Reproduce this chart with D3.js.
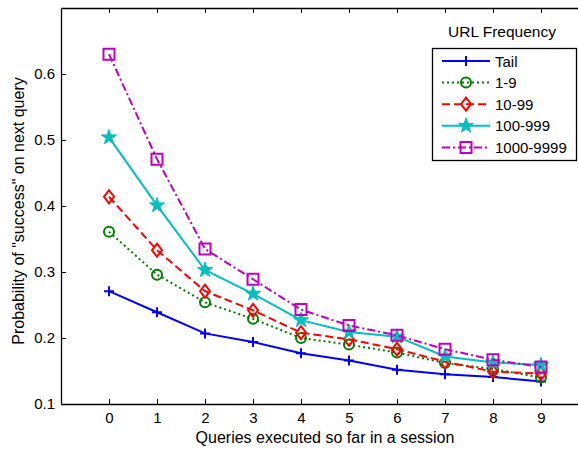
<!DOCTYPE html>
<html>
<head>
<meta charset="utf-8">
<script src="https://cdn.jsdelivr.net/npm/d3@7"></script>
<style>
  body { margin: 0; background: #fff; }
  svg { display: block; font-family: "Liberation Sans", Arial, sans-serif; }
</style>
</head>
<body>
<div id="root"></div>
<script>
// data
var queries = [0, 1, 2, 3, 4, 5, 6, 7, 8, 9];
var tail      = [0.271, 0.239, 0.207, 0.194, 0.177, 0.166, 0.152, 0.145, 0.141, 0.134];
var freq1     = [0.361, 0.296, 0.254, 0.229, 0.200, 0.190, 0.178, 0.162, 0.153, 0.140];
var freq10    = [0.414, 0.333, 0.271, 0.242, 0.208, 0.198, 0.183, 0.164, 0.149, 0.146];
var freq100   = [0.504, 0.401, 0.303, 0.267, 0.227, 0.209, 0.202, 0.172, 0.163, 0.159];
var freq1000  = [0.630, 0.471, 0.335, 0.289, 0.243, 0.219, 0.204, 0.183, 0.167, 0.156];
var seriesNames = ["Tail", "1-9", "10-99", "100-999", "1000-9999"];
var yTicks = [0.1, 0.2, 0.3, 0.4, 0.5, 0.6];

var width = 578, height = 449;
var margin = { top: 8, left: 61 };
var plotRight = 589, plotBottom = 404;

var series = [
  { name: seriesNames[0], values: tail,     color: "#0000ff", dash: null,          marker: "plus" },
  { name: seriesNames[1], values: freq1,    color: "#008000", dash: "2,3",         marker: "circle" },
  { name: seriesNames[2], values: freq10,   color: "#ff0000", dash: "8,4",         marker: "diamond" },
  { name: seriesNames[3], values: freq100,  color: "#00bfbf", dash: null,          marker: "star" },
  { name: seriesNames[4], values: freq1000, color: "#bf00bf", dash: "8,3,2,3",     marker: "square" }
];

var x = d3.scaleLinear().domain([-1, 10]).range([margin.left, plotRight]);
var y = d3.scaleLinear().domain([0.1, 0.7]).range([plotBottom, margin.top]);

var svg = d3.select("#root").append("svg")
  .attr("width", width)
  .attr("height", height);

// axes, ticks pointing inward like matlab
svg.append("g")
  .attr("transform", "translate(0," + plotBottom + ")")
  .call(d3.axisBottom(x).tickValues(queries).tickSizeInner(-5).tickSizeOuter(0).tickPadding(8))
  .call(function (g) {
    g.select(".domain").attr("stroke-width", 1.3);
    g.selectAll("text").attr("font-size", 15).attr("fill", "#000");
  });

svg.append("g")
  .attr("transform", "translate(" + margin.left + ",0)")
  .call(d3.axisLeft(y).tickValues(yTicks).tickFormat(d3.format(".1f")).tickSizeInner(-5).tickSizeOuter(0).tickPadding(6))
  .call(function (g) {
    g.select(".domain").attr("stroke-width", 1.3);
    g.selectAll("text").attr("font-size", 15).attr("fill", "#000");
  });

// top border with ticks
svg.append("g")
  .attr("transform", "translate(0," + margin.top + ")")
  .call(d3.axisTop(x).tickValues(queries).tickSizeInner(-5).tickSizeOuter(0).tickFormat(""))
  .call(function (g) { g.select(".domain").attr("stroke-width", 1.3); });

svg.append("text")
  .attr("x", (x(0) + x(9)) / 2)
  .attr("y", 443)
  .attr("text-anchor", "middle")
  .attr("font-size", 16)
  .text("Queries executed so far in a session");

svg.append("text")
  .attr("transform", "translate(23.5," + 211 + ") rotate(-90)")
  .attr("text-anchor", "middle")
  .attr("font-size", 16)
  .text('Probability of "success" on next query');

// marker shapes
function markerPath(type) {
  if (type === "plus") return "M-5,0H5M0,-5V5";
  if (type === "circle") return d3.arc()({ innerRadius: 0, outerRadius: 5, startAngle: 0, endAngle: 2 * Math.PI });
  if (type === "diamond") return "M0,-6.5L5,0L0,6.5L-5,0Z";
  if (type === "square") return "M-5.5,-5.5H5.5V5.5H-5.5Z";
  if (type === "star") return d3.symbol(d3.symbolStar, 70)();
}

function drawMarker(g, type, color) {
  g.append("path")
    .attr("d", markerPath(type))
    .attr("fill", type === "star" ? color : "none")
    .attr("stroke", color)
    .attr("stroke-width", type === "star" ? 1 : 2);
}

var line = d3.line()
  .x(function (d, i) { return x(queries[i]); })
  .y(function (d) { return y(d); });

series.forEach(function (s) {
  svg.append("path")
    .datum(s.values)
    .attr("d", line)
    .attr("fill", "none")
    .attr("stroke", s.color)
    .attr("stroke-width", 2)
    .attr("stroke-dasharray", s.dash);

  s.values.forEach(function (v, i) {
    var g = svg.append("g").attr("transform", "translate(" + x(queries[i]) + "," + y(v) + ")");
    drawMarker(g, s.marker, s.color);
  });
});

// legend
var legend = svg.append("g");
legend.append("text")
  .attr("x", 502).attr("y", 37)
  .attr("text-anchor", "middle")
  .attr("font-size", 15.5)
  .text("URL Frequency");

legend.append("rect")
  .attr("x", 432.5).attr("y", 48.5)
  .attr("width", 144).attr("height", 112)
  .attr("fill", "#fff")
  .attr("stroke", "#000")
  .attr("stroke-width", 1.3);

series.forEach(function (s, i) {
  var ly = 61 + i * 21.6;
  legend.append("line")
    .attr("x1", 442).attr("x2", 490)
    .attr("y1", ly).attr("y2", ly)
    .attr("stroke", s.color)
    .attr("stroke-width", 2)
    .attr("stroke-dasharray", s.dash);
  drawMarker(legend.append("g").attr("transform", "translate(466," + ly + ")"), s.marker, s.color);
  legend.append("text")
    .attr("x", 495).attr("y", ly + 5.5)
    .attr("font-size", 15)
    .text(s.name);
});
</script>
</body>
</html>
